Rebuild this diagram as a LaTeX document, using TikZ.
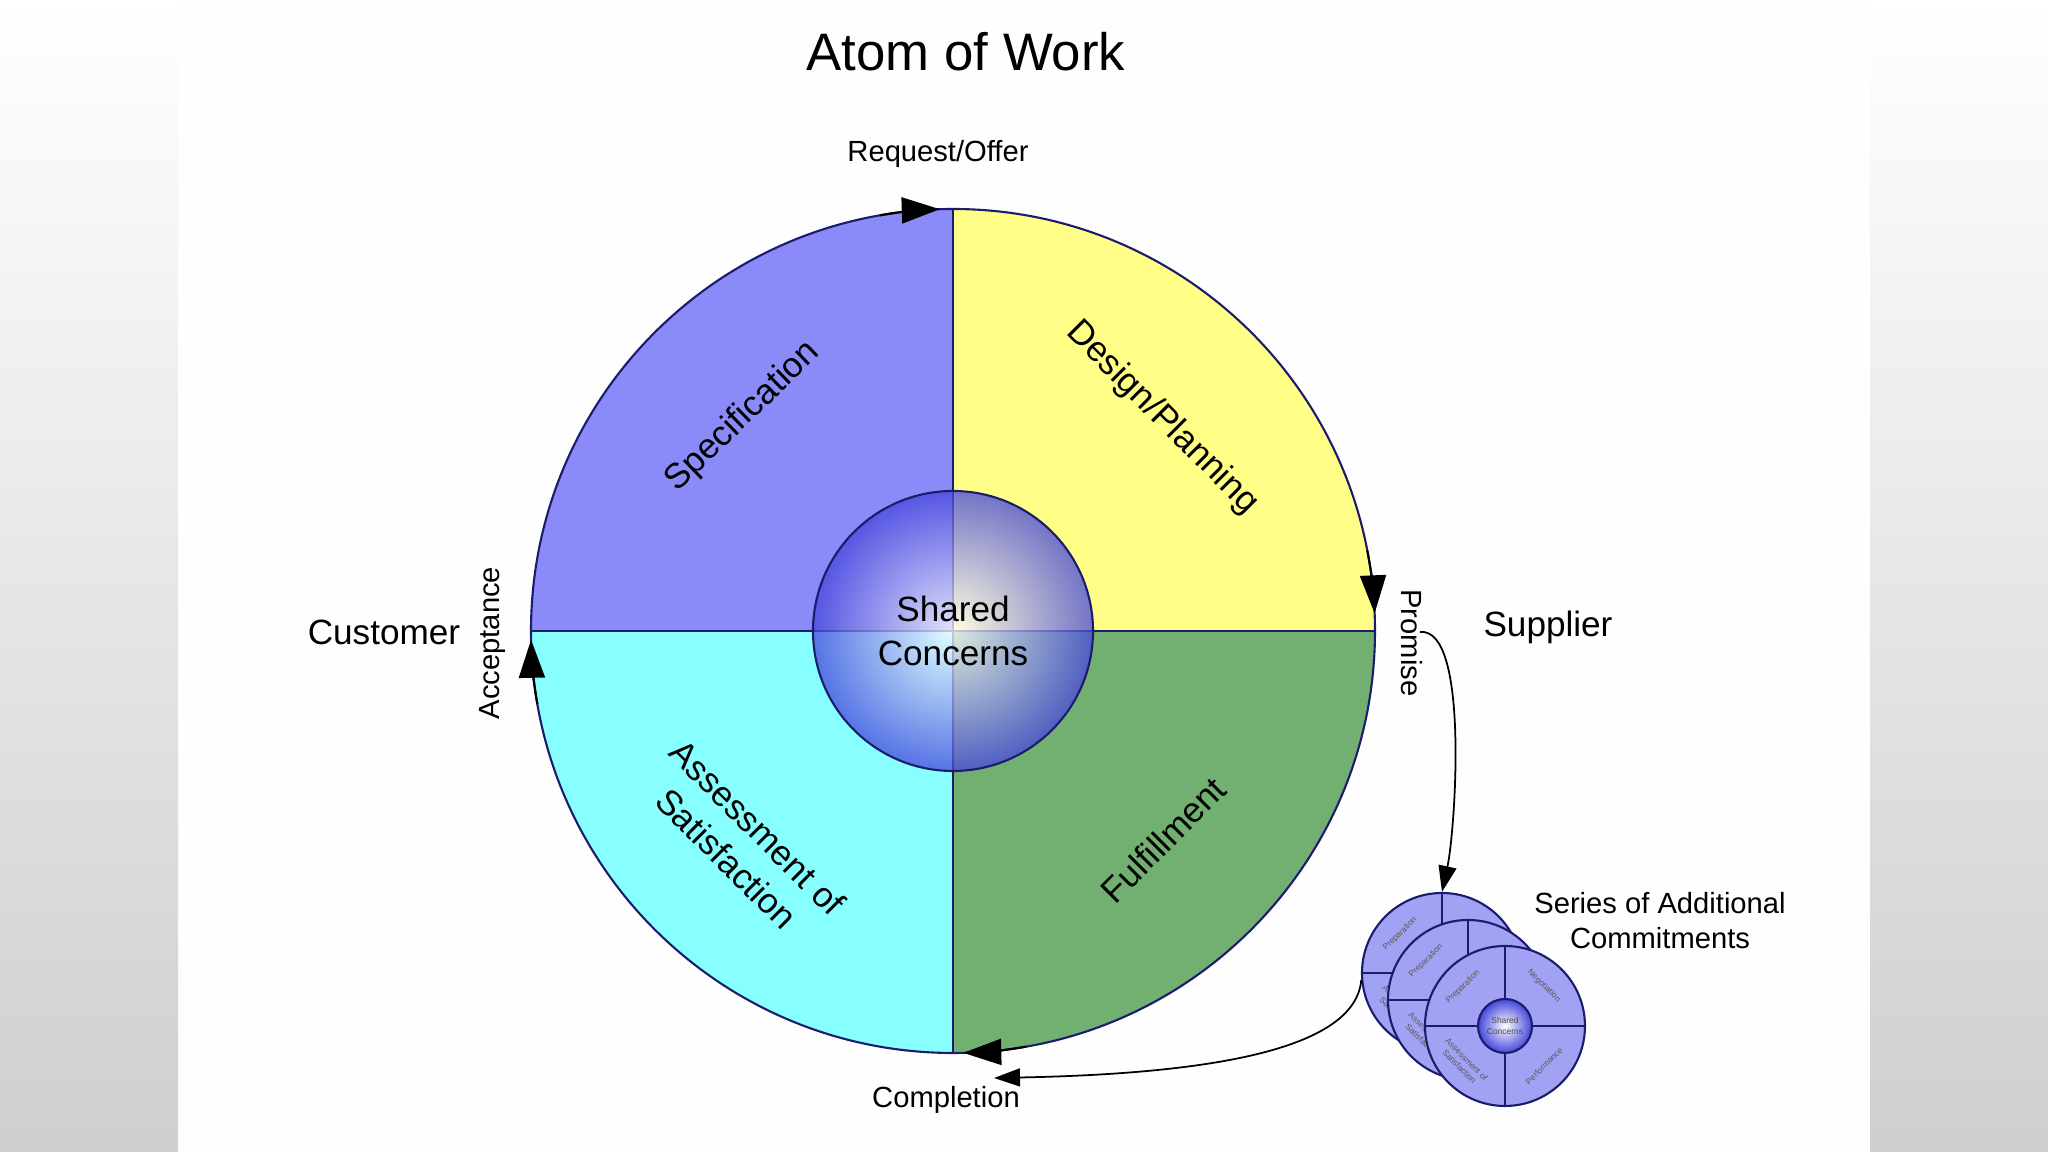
\documentclass[tikz,border=0pt]{standalone}
\usepackage{fontspec}
\setmainfont{Liberation Sans}
\usetikzlibrary{arrows.meta,positioning}

\definecolor{specblue}{RGB}{138,138,248}
\definecolor{designyellow}{RGB}{255,255,136}
\definecolor{assesscyan}{RGB}{136,255,255}
\definecolor{fulfilgreen}{RGB}{114,176,114}
\definecolor{rimnavy}{RGB}{28,28,108}
\definecolor{discblue}{RGB}{162,162,244}
\definecolor{coreblue}{RGB}{70,70,220}

\begin{document}
\begin{tikzpicture}[
	rim/.style={draw=rimnavy, line width=0.6pt},
	cyclearrow/.style={black, line width=0.6pt, -{Triangle[length=3.8mm,width=2.6mm]}},
	linkarrow/.style={black, line width=0.5pt, -{Triangle[length=2.6mm,width=1.8mm]}},
	biglabel/.style={font=\fontsize{10}{12.5}\selectfont, align=center},
	smalllabel/.style={font=\fontsize{8.3}{10}\selectfont, align=center},
	disc/.style={circle, draw=rimnavy, line width=0.6pt, fill=discblue, minimum size=1.6cm, inner sep=0pt},
	corecircle/.style={circle, draw=rimnavy, line width=0.6pt, inner color=white, outer color=coreblue, inner sep=0pt},
	disctext/.style={font=\fontsize{2.4}{2.9}\selectfont, text=black!65, align=center, inner sep=0pt}
	]
	\useasboundingbox (0,0) rectangle (20.48,11.52);
	\fill[white!99.5!black] (0,0) rectangle (20.48,11.52);
	\foreach \x in {0,18.70}
		\shade[top color=white, middle color=white!97!black, bottom color=black!19] (\x,0) rectangle ++(1.78,11.52);

	\node[font=\fontsize{15}{18}\selectfont] (title) at (9.66,11.00) {Atom of Work};

	\coordinate (mid) at (9.53,5.21);
	\foreach \a/\col in {90/specblue,0/designyellow,180/assesscyan,270/fulfilgreen}
		\fill[\col] (mid) -- ++(\a:4.22) arc[start angle=\a, delta angle=90, radius=4.22] -- cycle;
	\node[circle, rim, minimum size=8.44cm, inner sep=0pt] (atom) at (mid) {};
	\draw[rim] (atom.north) -- (atom.south) (atom.west) -- (atom.east);
	\node[corecircle, minimum size=2.8cm, fill opacity=0.75, text opacity=1, biglabel] (shared) at (mid) {Shared\\Concerns};

	\node[biglabel, rotate=44] (spec) at (7.43,7.35) {Specification};
	\node[biglabel, rotate=-45] (design) at (11.62,7.34) {Design/Planning};
	\node[biglabel, rotate=-45] (assess) at (7.42,3.09) {Assessment of\\Satisfaction};
	\node[biglabel, rotate=45] (fulfil) at (11.63,3.12) {Fulfillment};

	\node[biglabel] (customer) at (3.84,5.20) {Customer};
	\node[biglabel] (supplier) at (15.48,5.25) {Supplier};
	\node[smalllabel] (request) at (9.38,9.98) {Request/Offer};
	\node[smalllabel, rotate=90] (accept) at (4.92,5.09) {Acceptance};
	\node[smalllabel, rotate=-90] (promise) at (14.12,5.09) {Promise};
	\node[smalllabel] (completion) at (9.46,0.52) {Completion};
	\node[smalllabel] (series) at (16.60,2.31) {Series of Additional\\Commitments};

	\foreach \s/\e in {100/91.8, 11/2.4, -80/-88.6, 190/181.2}
		\draw[cyclearrow] (mid) ++(\s:4.22) arc[start angle=\s, end angle=\e, radius=4.22];

	\foreach \n/\x/\y in {1/14.42/1.79, 2/14.68/1.52, 3/15.05/1.26} {
		\node[disc] (d\n) at (\x,\y) {};
		\draw[rim] (d\n.north) -- (d\n.south) (d\n.west) -- (d\n.east);
		\node[corecircle, minimum size=0.54cm] (s\n) at (d\n) {};
		\node[disctext, rotate=45] (prep\n) at ([shift={(-0.42,0.39)}]d\n.center) {Preparation};
		\node[disctext, rotate=-45] (sat\n) at ([shift={(-0.42,-0.37)}]d\n.center) {Assessment of\\Satisfaction};
	}
	\node[disctext, text=black!70] at (s3) {Shared\\Concerns};
	\node[disctext, rotate=-45] (nego) at ([shift={(0.39,0.40)}]d3.center) {Negotiation};
	\node[disctext, rotate=45] (perf) at ([shift={(0.39,-0.40)}]d3.center) {Performance};

	\coordinate (promiseout) at (14.20,5.20);
	\coordinate (completionin) at (9.94,0.74);
	\draw[linkarrow] (promiseout) .. controls (14.70,5.25) and (14.55,3.20) .. (d1.north);
	\draw[linkarrow] (d1.185) .. controls (13.55,1.00) and (12.00,0.78) .. (completionin);
\end{tikzpicture}
\end{document}
